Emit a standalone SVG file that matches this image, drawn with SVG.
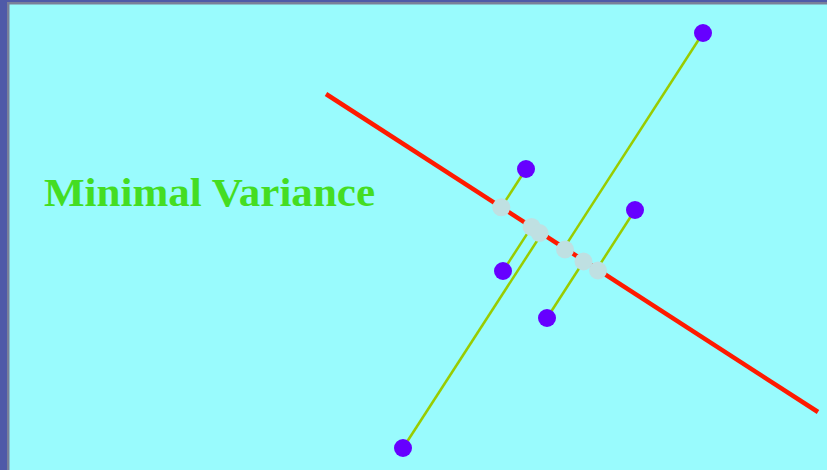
<svg xmlns="http://www.w3.org/2000/svg" width="827" height="470" viewBox="0 0 827 470">
<style>
.pt{fill:#6600ff}
.pr{fill:#bfe0e2}
.gl{stroke:#99cc00;stroke-width:2.5;fill:none}
.title{font-family:"Liberation Serif","Times New Roman",serif;font-weight:bold;font-size:40px;fill:#44dd22}
</style>
<rect x="0" y="0" width="827" height="470" fill="#4f5aa8"/>
<rect x="7" y="2" width="820" height="468" fill="#7a7f9a"/>
<rect x="9.5" y="4.5" width="818" height="466" fill="#99fbfd"/>
<text class="title" x="44" y="206" textLength="331" lengthAdjust="spacingAndGlyphs">Minimal Variance</text>
<g id="connectors">
<line x1="326" y1="94" x2="818" y2="412" stroke="#ff1a00" stroke-width="4.5"/>
<line class="gl" x1="703" y1="33" x2="564.1" y2="247.9"/>
<line class="gl" x1="403" y1="448" x2="541.8" y2="233.5"/>
<line class="gl" x1="526" y1="169" x2="501.3" y2="207.3"/>
<line class="gl" x1="503" y1="271" x2="531.6" y2="226.9"/>
<line class="gl" x1="547" y1="318" x2="584" y2="260.8"/>
<line class="gl" x1="635" y1="210" x2="596.9" y2="269.1"/>
</g>
<g id="proj1"><circle class="pr" cx="501.3" cy="207.3" r="9"/></g>
<g id="proj2"><circle class="pr" cx="531.6" cy="226.9" r="9"/></g>
<g id="proj3"><circle class="pr" cx="539.5" cy="233" r="9"/></g>
<g id="proj4"><circle class="pr" cx="565" cy="249.5" r="9"/></g>
<g id="proj5"><circle class="pr" cx="583.5" cy="261.5" r="9"/></g>
<g id="proj6"><circle class="pr" cx="598" cy="270.5" r="9"/></g>
<g id="p1"><circle class="pt" cx="703" cy="33" r="9"/></g>
<g id="p2"><circle class="pt" cx="526" cy="169" r="9"/></g>
<g id="p3"><circle class="pt" cx="635" cy="210" r="9"/></g>
<g id="p4"><circle class="pt" cx="503" cy="271" r="9"/></g>
<g id="p5"><circle class="pt" cx="547" cy="318" r="9"/></g>
<g id="p6"><circle class="pt" cx="403" cy="448" r="9"/></g>
</svg>
